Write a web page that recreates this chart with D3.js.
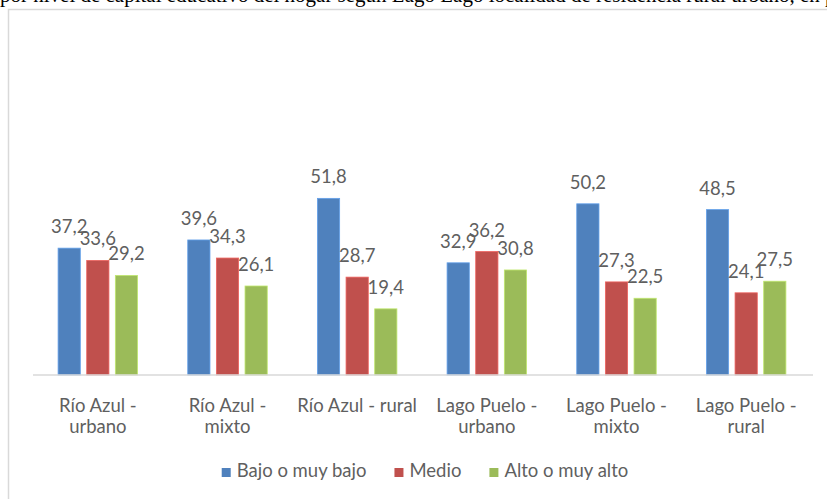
<!DOCTYPE html>
<head>
  <meta charset="utf-8">
  <script src="https://d3js.org/d3.v7.min.js"></script>
  <style>
    body { margin: 0; background: #fff; }
    svg { display: block; }
    .lbl { font-family: Lato, "Open Sans", sans-serif; fill: #5f5f5f; }
  </style>
</head>

<body>
  <script>

    // datos de la figura
    var categorias = ["Río Azul - urbano", "Río Azul - mixto", "Río Azul - rural",
                      "Lago Puelo - urbano", "Lago Puelo - mixto", "Lago Puelo - rural"];
    var series = ["Bajo o muy bajo", "Medio", "Alto o muy alto"];
    var bajo  = [37.2, 39.6, 51.8, 32.9, 50.2, 48.5];
    var medio = [33.6, 34.3, 28.7, 36.2, 27.3, 24.1];
    var alto  = [29.2, 26.1, 19.4, 30.8, 22.5, 27.5];
    var colores = ["#4f81bd", "#c0504d", "#9bbb59"];
    var textoArriba = "por nivel de capital educativo del hogar según Lago Lago localidad de residencia rural urbano, en porcentaje";

    var w = 827;
    var h = 499;
    var fs = 18.5;

    var valores = [bajo, medio, alto];

    var svg = d3.select("body")
        .append("svg")
        .attr("width", w)
        .attr("height", h);

    // linea de texto cortada arriba (pagina del documento)
    svg.append("text")
        .attr("x", 0)
        .attr("y", 2)
        .attr("font-family", "'Liberation Serif', 'Times New Roman', serif")
        .attr("font-size", 21)
        .attr("fill", "#000")
        .text(textoArriba);

    // marco del grafico
    svg.append("rect")
        .attr("x", 8.5)
        .attr("y", 9.5)
        .attr("width", w + 20)
        .attr("height", h + 20)
        .attr("fill", "none")
        .attr("stroke", "#d9d9d9")
        .attr("stroke-width", 1.5);

    var xScale = d3.scaleBand()
        .domain(categorias)
        .range([33, 811])
        .paddingInner(0.387)
        .paddingOuter(0.1935);

    var xSerie = d3.scaleBand()
        .domain(series)
        .range([0, xScale.bandwidth()])
        .paddingInner(0.224);

    var yScale = d3.scaleLinear()
        .domain([0, 60])
        .range([375, 170.4]);

    var grupos = svg.selectAll("g.grupo")
        .data(categorias)
        .enter()
        .append("g")
        .attr("class", "grupo")
        .attr("transform", function(d) { return "translate(" + xScale(d) + ",0)"; });

    grupos.selectAll("rect")
        .data(function(d, i) {
            return series.map(function(s, j) { return {serie: s, j: j, v: valores[j][i]}; });
        })
        .enter()
        .append("rect")
        .attr("x", function(d) { return xSerie(d.serie); })
        .attr("y", function(d) { return yScale(d.v); })
        .attr("width", xSerie.bandwidth())
        .attr("height", function(d) { return yScale(0) - yScale(d.v); })
        .attr("fill", function(d) { return colores[d.j]; })
        .attr("stroke", function(d) { return d3.color(colores[d.j]).brighter(0.6); })
        .attr("stroke-width", 0.8);

    // etiquetas de datos
    grupos.selectAll("text")
        .data(function(d, i) {
            return series.map(function(s, j) { return {serie: s, j: j, v: valores[j][i]}; });
        })
        .enter()
        .append("text")
        .attr("class", "lbl")
        .attr("font-size", fs)
        .attr("text-anchor", "middle")
        .attr("x", function(d) { return xSerie(d.serie) + xSerie.bandwidth() / 2; })
        .attr("y", function(d) { return yScale(d.v) - 15; })
        .text(function(d) { return d.v.toFixed(1).replace(".", ","); });

    // eje x
    var xAxis = d3.axisBottom(xScale).tickSize(0).tickPadding(0);
    var eje = svg.append("g")
        .attr("transform", "translate(0,375)")
        .call(xAxis);
    eje.select(".domain")
        .attr("d", "M33,0H813")
        .attr("stroke", "#d9d9d9")
        .attr("stroke-width", 1.5);
    eje.selectAll(".tick text").remove();

    eje.selectAll(".tick").each(function(d) {
        var t = d3.select(this).append("text")
            .attr("class", "lbl")
            .attr("font-size", fs)
            .attr("text-anchor", "middle")
            .attr("y", 36.7);
        // partir en lineas segun el ancho disponible
        var palabras = d.split(" ");
        var lineas = [];
        var actual = "";
        var tmp = t.append("tspan");
        palabras.forEach(function(p) {
            var prueba = actual ? actual + " " + p : p;
            tmp.text(prueba);
            if (tmp.node().getComputedTextLength() > 128 && actual) {
                lineas.push(actual);
                actual = p;
            } else {
                actual = prueba;
            }
        });
        lineas.push(actual);
        tmp.remove();
        lineas.forEach(function(l, k) {
            t.append("tspan")
                .attr("x", 0)
                .attr("dy", k === 0 ? 0 : 21.5)
                .text(l);
        });
    });

    // leyenda
    var leyenda = svg.append("g");
    var pos = 0;
    series.forEach(function(s, j) {
        var item = leyenda.append("g").attr("transform", "translate(" + pos + ",0)");
        item.append("rect")
            .attr("x", 0)
            .attr("y", 468)
            .attr("width", 9)
            .attr("height", 9)
            .attr("fill", colores[j]);
        var txt = item.append("text")
            .attr("class", "lbl")
            .attr("font-size", fs)
            .attr("x", 15)
            .attr("y", 477)
            .text(s);
        pos += 15 + txt.node().getComputedTextLength() + 28;
    });
    var anchoLeyenda = pos - 28;
    leyenda.attr("transform", "translate(" + (425 - anchoLeyenda / 2) + ",0)");

  </script>
</body>
